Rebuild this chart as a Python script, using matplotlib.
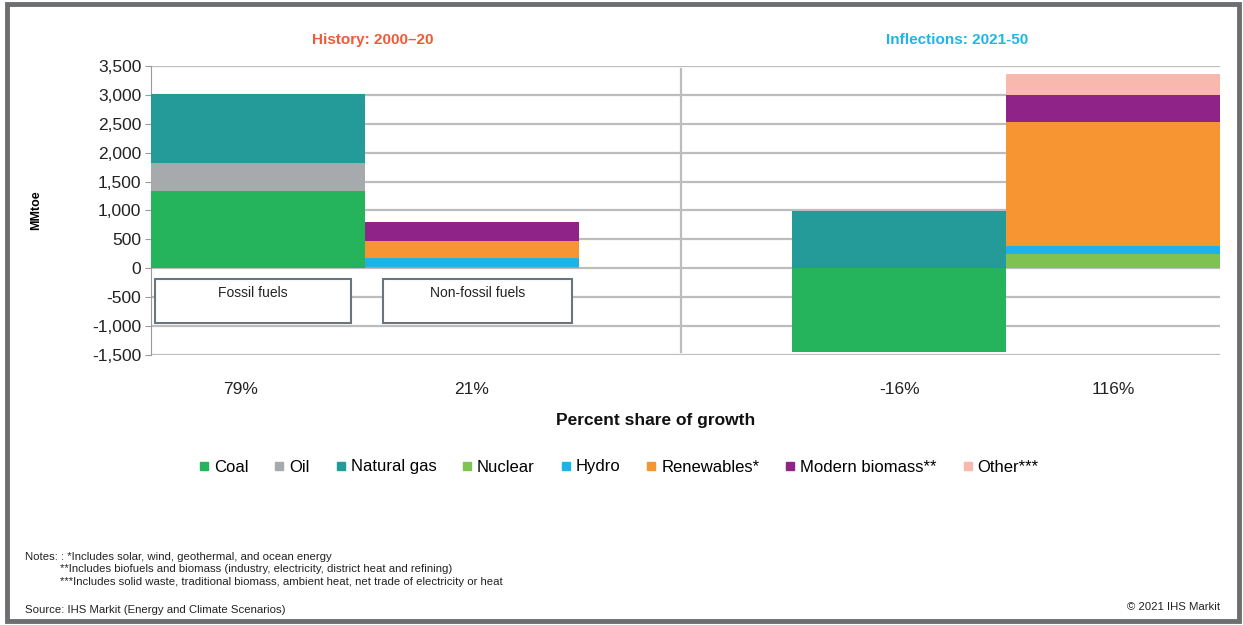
import matplotlib.pyplot as plt
import matplotlib.patches as mpatches
from matplotlib.lines import Line2D
import numpy as np

plt.rcParams['font.family'] = ['Liberation Sans', 'DejaVu Sans']

# data (MMtoe)
positions = [0, 1, 3, 4]
pct_labels = ['79%', '21%', '-16%', '116%']
series = ['Coal', 'Oil', 'Natural gas', 'Nuclear', 'Hydro', 'Renewables*',
          'Modern biomass**', 'Other***']
colors = ['#25b35b', '#a7aaad', '#249a99', '#80c252', '#1db3e8', '#f69532',
          '#8f2387', '#f8b8ae']
coal = [1340, 0, -1450, 0]
oil = [480, 0, 0, 0]
gas = [1190, 0, 985, 0]
nuclear = [0, 25, 0, 250]
hydro = [0, 145, 0, 130]
renew = [0, 300, 0, 2150]
biomass = [0, 333, 0, 460]
other = [0, 0, 0, 365]
values = [coal, oil, gas, nuclear, hydro, renew, biomass, other]

W, H = 1243, 625
fig = plt.figure(figsize=(W / 100, H / 100), dpi=100)
ax = fig.add_axes([151 / W, 1 - 355 / H, (1220 - 151) / W, (355 - 66) / H])

pos_base = np.zeros(4)
neg_base = np.zeros(4)
for vals, c in zip(values, colors):
    v = np.array(vals, dtype=float)
    base = np.where(v >= 0, pos_base, neg_base)
    ax.bar(positions, v, bottom=base, width=1.0, color=c, zorder=3,
           edgecolor='none')
    pos_base += np.where(v > 0, v, 0)
    neg_base += np.where(v < 0, v, 0)

ax.set_xlim(-0.5, 4.5)
ax.set_ylim(-1500, 3500)
ax.set_yticks(np.arange(-1500, 3501, 500))
ax.set_yticklabels([f'{t:,}' for t in np.arange(-1500, 3501, 500)], fontsize=12.5,
                   color='#222222')
ax.set_xticks([])
ax.grid(axis='y', color='#bdbdbd', linewidth=1.6, zorder=0)
for s in ['top', 'right', 'bottom']:
    ax.spines[s].set_visible(False)
ax.spines['left'].set_color('#9a9a9a')
ax.tick_params(axis='y', length=4, color='#9a9a9a', pad=3)
ax.set_ylabel('MMtoe', fontsize=9, fontweight='bold', labelpad=36)

# divider between history and inflections
ax.plot([1.98, 1.98], [-1450, 3450], color='#bdbdbd', lw=1.6, zorder=2)

# group boxes
for x0, x1, label in [(-0.48, 0.435, 'Fossil fuels'), (0.585, 1.47, 'Non-fossil fuels')]:
    ax.add_patch(mpatches.Rectangle((x0, -950), x1 - x0, 765, facecolor='white',
                                    edgecolor='#6b7580', lw=1.5, zorder=4))
    ax.text((x0 + x1) / 2, -420, label, ha='center', va='center', fontsize=10,
            color='#222222', zorder=5)

label_shift = [-0.08, 0, 0, 0]
for p, lab, d in zip(positions, pct_labels, label_shift):
    ax.text(p + d, -1960, lab, ha='center', va='top',
            fontsize=12.5, color='#222222')

fig.text(373 / W, 1 - 40 / H, 'History: 2000\u201320', color='#f05a35',
         fontsize=11, fontweight='bold', ha='center', va='center')
fig.text(957 / W, 1 - 40 / H, 'Inflections: 2021-50', color='#1fb5e8',
         fontsize=11, fontweight='bold', ha='center', va='center')
fig.text(656 / W, 1 - 421 / H, 'Percent share of growth', fontsize=12.5,
         fontweight='bold', ha='center', va='center', color='#111111')

handles = [Line2D([], [], marker='s', ls='none', color=c, markersize=6)
           for c in colors]
fig.legend(handles, series, loc='center', bbox_to_anchor=(618 / W, 1 - 467 / H),
           ncol=8, frameon=False, fontsize=12, handletextpad=0.2,
           columnspacing=1.45, handlelength=0.8)

notes = [(25, 557, 'Notes: : *Includes solar, wind, geothermal, and ocean energy'),
         (60, 569, '**Includes biofuels and biomass (industry, electricity, district heat and refining)'),
         (60, 582, '***Includes solid waste, traditional biomass, ambient heat, net trade of electricity or heat'),
         (25, 610, 'Source: IHS Markit (Energy and Climate Scenarios)')]
for x, y, s in notes:
    fig.text(x / W, 1 - y / H, s, fontsize=8.2, ha='left', va='center',
             color='#222222')
fig.text(1220 / W, 1 - 607 / H, '\u00a9 2021 IHS Markit', fontsize=8.2,
         ha='right', va='center', color='#222222')

fig.patches.append(mpatches.Rectangle((7 / W, 4 / H), (1239 - 7) / W, (621 - 4) / H,
                                      transform=fig.transFigure, fill=False,
                                      edgecolor='#6d6e71', lw=3.5))

fig.savefig('out.png', dpi=100)
